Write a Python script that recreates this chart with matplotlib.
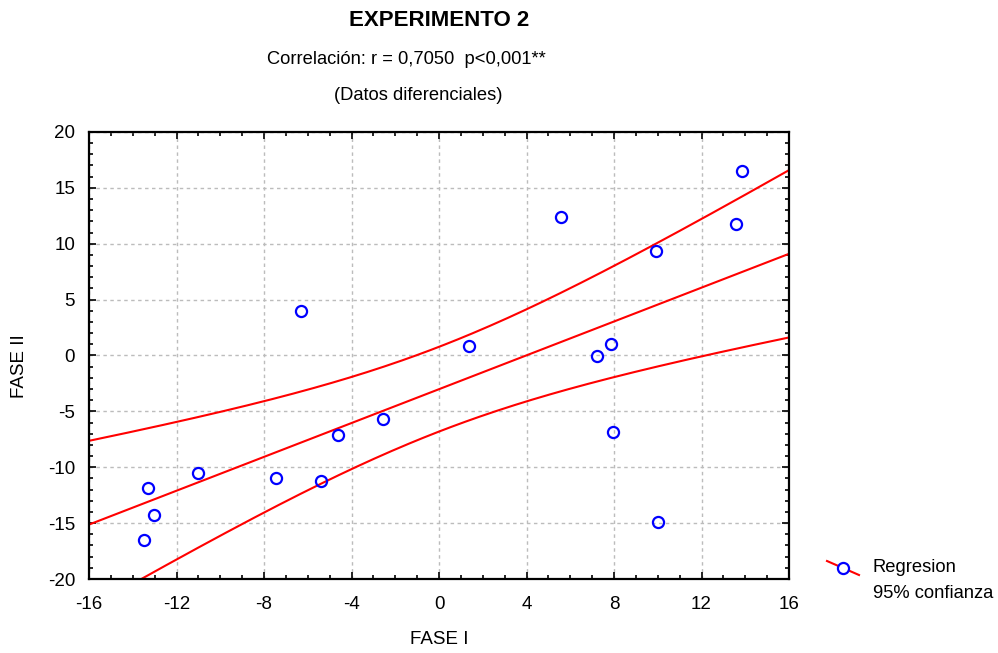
import numpy as np
import matplotlib
matplotlib.use("Agg")
import matplotlib.pyplot as plt
from matplotlib.lines import Line2D
from matplotlib.ticker import MultipleLocator

plt.rcParams['font.family'] = ['Liberation Sans', 'DejaVu Sans']
plt.rcParams['axes.unicode_minus'] = False

# Data (FASE I vs FASE II, differential data)
fase_1 = [13.85, 5.58, 13.58, 9.92, -6.31, 1.37, 7.22, 7.86, 7.95, 10.01,
          -2.56, -4.62, -11.02, -7.45, -5.39, -13.30, -13.03, -13.49]
fase_2 = [16.47, 12.35, 11.81, 9.31, 3.94, 0.89, -0.09, 1.07, -6.89, -14.94,
          -5.64, -7.07, -10.47, -11.00, -11.19, -11.90, -14.23, -16.55]

x_ticks = [-16, -12, -8, -4, 0, 4, 8, 12, 16]
y_ticks = [-20, -15, -10, -5, 0, 5, 10, 15, 20]

x = np.array(fase_1)
y = np.array(fase_2)
n = len(x)

# Linear regression with 95% confidence band for the mean
slope, intercept = np.polyfit(x, y, 1)
resid = y - (slope * x + intercept)
s = np.sqrt(np.sum(resid ** 2) / (n - 2))
t_crit = 2.1199  # t(0.975, df=16)
xs = np.linspace(-16, 16, 200)
ys = slope * xs + intercept
half = t_crit * s * np.sqrt(1.0 / n + (xs - x.mean()) ** 2 / np.sum((x - x.mean()) ** 2))

fig = plt.figure(figsize=(9.98, 6.53), dpi=100)
ax = fig.add_axes([0.0892, 0.1133, 0.7014, 0.6846])

ax.plot(xs, ys, color='red', lw=1.5)
ax.plot(xs, ys + half, color='red', lw=1.5)
ax.plot(xs, ys - half, color='red', lw=1.5)
ax.plot(x, y, 'o', mfc='none', mec='blue', mew=1.6, ms=8, zorder=5)

ax.set_xlim(-16, 16)
ax.set_ylim(-20, 20)
ax.set_xticks(x_ticks)
ax.set_yticks(y_ticks)
ax.xaxis.set_minor_locator(MultipleLocator(1))
ax.yaxis.set_minor_locator(MultipleLocator(1))
ax.tick_params(which='both', direction='in', top=True, right=True, labelsize=13.5, width=1.2)
ax.tick_params(which='major', length=5)
ax.tick_params(axis='x', which='major', pad=12)
ax.tick_params(axis='y', which='major', pad=10)
ax.tick_params(which='minor', length=3)
ax.grid(True, which='major', color='#bcbcbc', ls=(0, (2.5, 2.5)), lw=1)
for sp in ax.spines.values():
    sp.set_linewidth(1.6)

fig.text(439 / 998, 1 - 640 / 653, 'FASE I', ha='center', va='center', fontsize=13.5)
fig.text(20 / 998, 1 - 366 / 653, 'FASE II', ha='center', va='center', fontsize=13.5, rotation=90)

fig.text(0.44, 0.968, 'EXPERIMENTO 2', ha='center', va='center', fontsize=16, fontweight='bold')
fig.text(0.407, 0.909, 'Correlación: r = 0,7050  p<0,001**', ha='center', va='center', fontsize=13.2)
fig.text(0.419, 0.854, '(Datos diferenciales)', ha='center', va='center', fontsize=13.2)

# Legend: diagonal red line with open marker
fig.add_artist(Line2D([827 / 998, 859 / 998], [1 - 561 / 653, 1 - 575 / 653],
                      transform=fig.transFigure, color='red', lw=1.5))
fig.add_artist(Line2D([843 / 998], [1 - 568 / 653], transform=fig.transFigure,
                      marker='o', mfc='white', mec='blue', mew=1.6, ms=8))
fig.text(873 / 998, 1 - 567 / 653, 'Regresion', ha='left', va='center', fontsize=13.2)
fig.text(873 / 998, 1 - 594 / 653, '95% confianza', ha='left', va='center', fontsize=13.2)

fig.savefig('out.png', dpi=100)
